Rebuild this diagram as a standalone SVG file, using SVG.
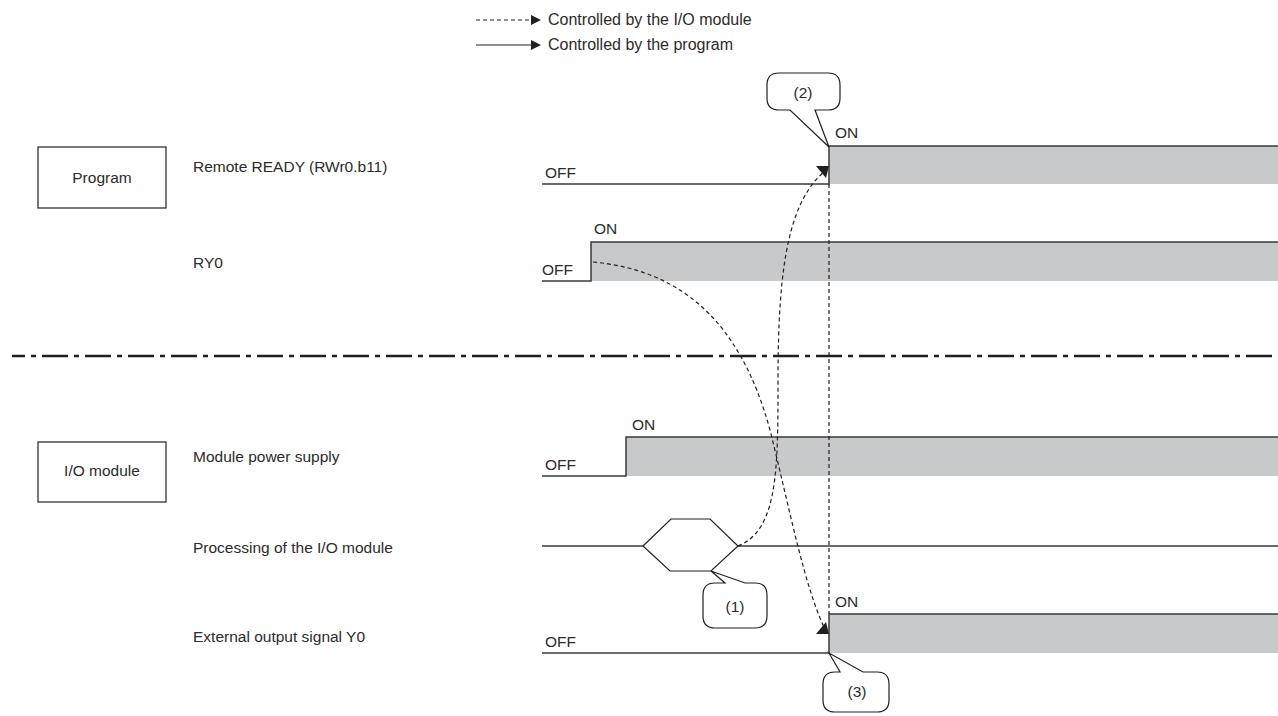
<svg xmlns="http://www.w3.org/2000/svg" width="1278" height="716" viewBox="0 0 1278 716">
<defs>
<style>
text{font-family:"Liberation Sans",Arial,sans-serif;font-size:15.5px;fill:#2b2b2b}
.lg{font-size:16px}
.box{fill:#fff;stroke:#231f20;stroke-width:1.2}
.sig{fill:none;stroke:#3a3a3a;stroke-width:1.5}
.on{fill:#c8c9ca;stroke:none}
.dash{fill:none;stroke:#231f20;stroke-width:1.2;stroke-dasharray:4 3}
.solid{fill:none;stroke:#231f20;stroke-width:1.2}
.ah{fill:#231f20}
.call{fill:#fff;stroke:#231f20;stroke-width:1.2}
</style>
</defs>
<rect width="1278" height="716" fill="#fff"/>

<g id="legend">
<line class="dash" x1="476" y1="20" x2="532" y2="20"/>
<polygon class="ah" points="541,20 531,15 531,25"/>
<text class="lg" x="548" y="25">Controlled by the I/O module</text>
<line class="solid" x1="476" y1="45" x2="532" y2="45"/>
<polygon class="ah" points="541,45 531,40 531,50"/>
<text class="lg" x="548" y="50">Controlled by the program</text>
</g>

<g id="program-box">
<rect class="box" x="38" y="147" width="128" height="61"/>
<text x="102" y="183" text-anchor="middle">Program</text>
</g>
<g id="io-box">
<rect class="box" x="38" y="442" width="128" height="60"/>
<text x="102" y="476" text-anchor="middle">I/O module</text>
</g>

<g id="divider">
<line x1="12" y1="356" x2="1278" y2="356" stroke="#231f20" stroke-width="2.5" stroke-dasharray="26 6 5 6" stroke-dashoffset="13"/>
</g>

<g id="remote-ready">
<text x="193" y="172">Remote READY (RWr0.b11)</text>
<rect class="on" x="829" y="146" width="449" height="38"/>
<polyline class="sig" points="542,184 829,184 829,146 1278,146"/>
<text x="545" y="178">OFF</text>
<text x="835" y="138">ON</text>
</g>

<g id="ry0">
<text x="193" y="268">RY0</text>
<rect class="on" x="591" y="242" width="687" height="39"/>
<polyline class="sig" points="542,281 591,281 591,242 1278,242"/>
<text x="542" y="275">OFF</text>
<text x="594" y="234">ON</text>
</g>

<g id="module-power">
<text x="193" y="462">Module power supply</text>
<rect class="on" x="626" y="437" width="652" height="39"/>
<polyline class="sig" points="542,476 626,476 626,437 1278,437"/>
<text x="545" y="470">OFF</text>
<text x="632" y="430">ON</text>
</g>

<g id="processing">
<text x="193" y="553">Processing of the I/O module</text>
<line class="sig" x1="542" y1="546" x2="643" y2="546"/>
<line class="sig" x1="738" y1="546" x2="1278" y2="546"/>
<polygon fill="#fff" stroke="#231f20" stroke-width="1.2" points="643,546 671,519 710,519 738,546 711,571 670,571"/>
</g>

<g id="y0">
<text x="193" y="642">External output signal Y0</text>
<rect class="on" x="829" y="614" width="449" height="39"/>
<polyline class="sig" points="542,653 829,653 829,614 1278,614"/>
<text x="545" y="647">OFF</text>
<text x="835" y="607">ON</text>
</g>

<g id="connectors">
<line class="dash" x1="829" y1="184" x2="829" y2="614"/>
<path class="dash" d="M738,546 C778,530 778,470 778,380 C778,260 790,200 826,170"/>
<polygon class="ah" points="829,166 816,166 826,178"/>
<path class="dash" d="M593,262 C680,270 740,320 770,430 C790,510 805,590 826,631"/>
<polygon class="ah" points="829,634 816,634 826,622"/>
</g>

<g id="callout-1">
<path class="call" d="M711,571 L725,583 L715,583 Q703,583 703,595 L703,616 Q703,628 715,628 L755,628 Q767,628 767,616 L767,595 Q767,583 755,583 L745,583 Z"/>
<text x="735" y="612" text-anchor="middle">(1)</text>
</g>
<g id="callout-2">
<path class="call" d="M829,147 L815,110 L828,110 Q840,110 840,98 L840,85 Q840,73 828,73 L779,73 Q767,73 767,85 L767,98 Q767,110 779,110 L790,110 Z"/>
<text x="803" y="98" text-anchor="middle">(2)</text>
</g>
<g id="callout-3">
<path class="call" d="M829,653 L840,672 L835,672 Q823,672 823,684 L823,700 Q823,712 835,712 L877,712 Q889,712 889,700 L889,684 Q889,672 877,672 L863,672 Z"/>
<text x="857" y="697" text-anchor="middle">(3)</text>
</g>
</svg>
